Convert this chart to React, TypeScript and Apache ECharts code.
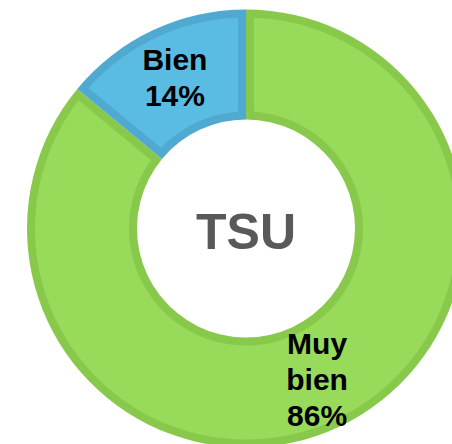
import React, { useEffect, useRef } from "react";
import * as echarts from "echarts";

const categories = ["Muy bien", "Bien"];
const values = [86, 14];
const fillColors = ["#98DA59", "#5BBCE3"];
const borderColors = ["#88C94B", "#4FA9D0"];
const centerLabel = "TSU";

const CX = 246;
const CY = 228.5;
const R_OUT = 219;
const R_IN = 109;
const INSET = 8;
const FONT = "'Liberation Sans', Arial, Helvetica, sans-serif";

export default function App() {
  const ref = useRef<HTMLDivElement>(null);

  useEffect(() => {
    if (!ref.current) return;
    const chart = echarts.init(ref.current, undefined, { renderer: "svg" });
    const total = values.reduce((a, b) => a + b, 0);
    const pieData = categories.map((name, i) => ({ name, value: values[i] }));

    const renderItem = (params: any, api: any) => {
      const i = params.dataIndex;
      let cum = 0;
      for (let k = 0; k < i; k++) cum += values[k];
      const a0 = ((90 - (cum / total) * 360) * Math.PI) / 180;
      const a1 = ((90 - ((cum + values[i]) / total) * 360) * Math.PI) / 180;
      const ro = R_OUT - INSET;
      const ri = R_IN + INSET;
      const dO = Math.asin(INSET / ro);
      const dI = Math.asin(INSET / ri);
      const pts: number[][] = [];
      const n = 120;
      const os = a0 - dO;
      const oe = a1 + dO;
      for (let s = 0; s <= n; s++) {
        const t = os + ((oe - os) * s) / n;
        pts.push([CX + ro * Math.cos(t), CY - ro * Math.sin(t)]);
      }
      const is = a1 + dI;
      const ie = a0 - dI;
      for (let s = 0; s <= n; s++) {
        const t = is + ((ie - is) * s) / n;
        pts.push([CX + ri * Math.cos(t), CY - ri * Math.sin(t)]);
      }
      return {
        type: "polygon",
        shape: { points: pts },
        style: { fill: fillColors[i], stroke: "none" },
      };
    };

    chart.setOption({
      animation: false,
      color: borderColors,
      series: [
        {
          type: "pie",
          silent: true,
          z: 1,
          center: [CX, CY],
          radius: [R_IN, R_OUT],
          startAngle: 90,
          clockwise: true,
          label: { show: false },
          labelLine: { show: false },
          itemStyle: {
            color: (p: any) => borderColors[p.dataIndex],
            borderWidth: 0,
          },
          data: pieData,
        },
        {
          type: "custom",
          coordinateSystem: "none",
          silent: true,
          z: 2,
          renderItem,
          data: values,
        },
        {
          type: "pie",
          silent: true,
          z: 3,
          center: [CX, CY],
          radius: [R_IN, R_OUT],
          startAngle: 90,
          clockwise: true,
          itemStyle: { color: "rgba(0,0,0,0)", borderWidth: 0 },
          labelLine: { show: false },
          label: {
            show: true,
            position: "inside",
            color: "#000",
            fontFamily: FONT,
            fontWeight: "bold",
            fontSize: 30,
            lineHeight: 36,
            formatter: (p: any) =>
              `${String(p.name).replace(" ", "\n")}\n${Math.round(p.percent)}%`,
          },
          data: pieData,
        },
      ],
      graphic: [
        {
          type: "text",
          x: CX,
          y: CY + 3,
          z: 10,
          style: {
            text: centerLabel,
            fill: "#595959",
            font: `bold 50px ${FONT}`,
            textAlign: "center",
            textVerticalAlign: "middle",
          },
        },
      ],
    });

    return () => chart.dispose();
  }, []);

  return (
    <div
      ref={ref}
      style={{ position: "absolute", left: 0, top: 0, width: 452, height: 444 }}
    />
  );
}
